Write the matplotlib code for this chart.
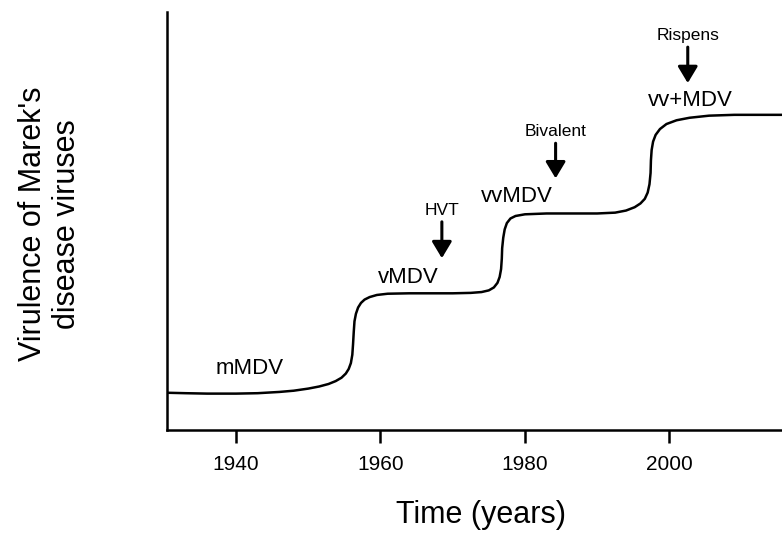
import matplotlib
matplotlib.use("Agg")
import matplotlib.pyplot as plt

plt.rcParams['font.family'] = ['Liberation Sans', 'DejaVu Sans']

# curve (year, relative virulence)
years = [1930.6, 1933.0, 1936.0, 1940.0, 1943.0, 1946.0, 1948.0, 1950.0, 1951.5,
         1952.8, 1953.8, 1954.6, 1955.2, 1955.6, 1955.9, 1956.1, 1956.2, 1956.3,
         1956.4, 1956.6, 1956.9, 1957.3, 1957.8, 1958.5, 1959.5, 1961.0, 1964.0,
         1970.0, 1972.5, 1974.0, 1975.0, 1975.7, 1976.2, 1976.5, 1976.7, 1976.8,
         1976.85, 1977.0, 1977.2, 1977.5, 1978.0, 1978.7, 1980.0, 1983.0, 1990.0,
         1992.5, 1994.0, 1995.2, 1996.0, 1996.6, 1997.0, 1997.25, 1997.4, 1997.45,
         1997.55, 1997.75, 1998.1, 1998.7, 1999.6, 2001.0, 2002.8, 2005.5, 2009.0,
         2015.6]
virulence = [0.89, 0.88, 0.87, 0.87, 0.88, 0.91, 0.94, 0.99, 1.04,
             1.10, 1.17, 1.25, 1.35, 1.46, 1.60, 1.80, 2.05, 2.35,
             2.60, 2.78, 2.93, 3.04, 3.12, 3.18, 3.23, 3.26, 3.27,
             3.27, 3.28, 3.30, 3.34, 3.41, 3.52, 3.66, 3.85, 4.10,
             4.35, 4.60, 4.80, 4.95, 5.06, 5.12, 5.16, 5.18, 5.18,
             5.20, 5.25, 5.33, 5.42, 5.53, 5.68, 5.88, 6.15, 6.45,
             6.70, 6.90, 7.06, 7.20, 7.32, 7.41, 7.47, 7.52, 7.54,
             7.54]

# pathotype labels
pathotypes = ['mMDV', 'vMDV', 'vvMDV', 'vv+MDV']
path_x = [1941.9, 1963.8, 1978.9, 2002.9]
path_y = [1.46, 3.64, 5.58, 7.88]

# vaccine introductions
vaccines = ['HVT', 'Bivalent', 'Rispens']
vac_year = [1968.5, 1984.25, 2002.55]
vac_top = [4.98, 6.86, 9.16]
vac_tip = [4.11, 6.02, 8.30]
vac_text = [5.25, 7.15, 9.45]

fig = plt.figure(figsize=(7.82, 5.34), dpi=100)
ax = fig.add_axes([0.2132, 0.1948, 0.7868, 0.7827])

ax.plot(years, virulence, color='black', lw=1.8, solid_joinstyle='round')

for name, x, y in zip(pathotypes, path_x, path_y):
    ax.text(x, y, name, ha='center', va='center', fontsize=16)

for name, x, top, tip, ty in zip(vaccines, vac_year, vac_top, vac_tip, vac_text):
    ax.annotate('', xy=(x, tip), xytext=(x, top),
                arrowprops=dict(arrowstyle='-|>,head_width=0.3,head_length=0.5',
                                mutation_scale=20, lw=2.2, color='black',
                                shrinkA=0, shrinkB=0))
    ax.text(x, ty, name, ha='center', va='center', fontsize=12.5)

ax.set_xlim(1930.4, 2015.6)
ax.set_ylim(0, 10)
ax.set_xticks([1940, 1960, 1980, 2000])
ax.set_yticks([])
ax.spines['top'].set_visible(False)
ax.spines['right'].set_visible(False)
ax.spines['left'].set_linewidth(1.8)
ax.spines['bottom'].set_linewidth(1.8)
ax.tick_params(axis='x', direction='out', length=9, width=1.8, labelsize=15, pad=9)

fig.text(481 / 782, 1 - 515 / 534, 'Time (years)', ha='center', va='center', fontsize=22)
fig.text(50 / 782, 1 - 224 / 534, "Virulence of Marek's\ndisease viruses", ha='center',
         va='center', rotation=90, fontsize=22, linespacing=1.2)

fig.savefig('out.png', dpi=100)
